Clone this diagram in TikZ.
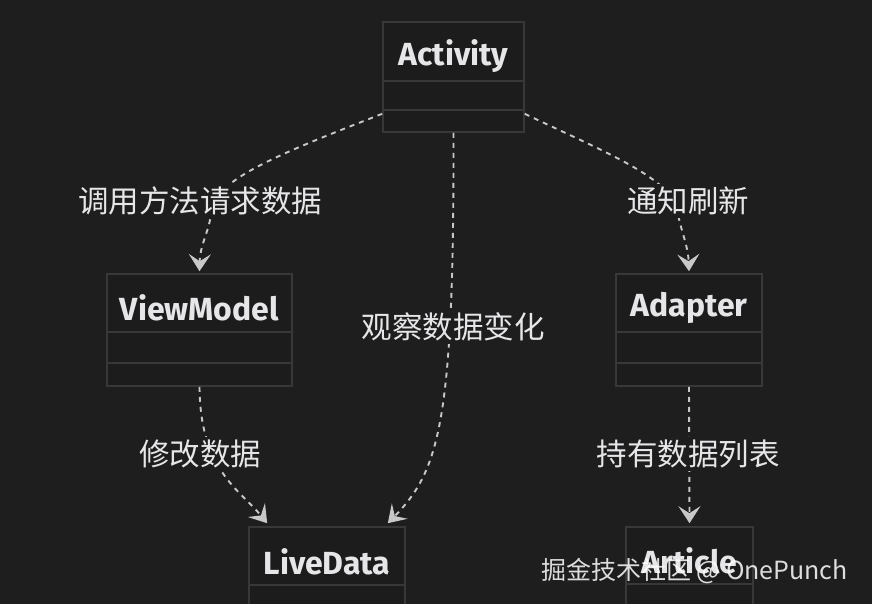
\documentclass[tikz,border=0pt]{standalone}
\usepackage{fontspec}
\setmainfont{Fira Sans}
\newfontfamily\cjk{Noto Sans CJK SC}
\usetikzlibrary{arrows.meta,calc}
\definecolor{bgc}{HTML}{1E1E1F}
\definecolor{boxline}{HTML}{383839}
\definecolor{boxfill}{HTML}{1C1C1D}
\definecolor{txt}{HTML}{E6E6E8}
\definecolor{edgec}{HTML}{C8C8C8}
\tikzset{
  classbox/.style={draw=boxline, line width=1.6pt, fill=boxfill, inner sep=0pt},
  divider/.style={draw=boxline, line width=1.6pt},
  titletext/.style={text=txt, font=\fontsize{32}{36}\selectfont\bfseries, inner sep=0pt},
  edgelabel/.style={text=txt, fill=bgc, font=\cjk\fontsize{30.5}{34}\selectfont, inner sep=3pt},
  flow/.style={draw=edgec, line width=1.9pt, dash pattern=on 5pt off 5pt,
    -{Stealth[length=17pt,width=22pt,inset=7pt,fill=edgec]}},
}
\begin{document}
\begin{tikzpicture}[x=1pt,y=-1pt]
\fill[bgc] (0,0) rectangle (872,604);
\useasboundingbox (0,0) rectangle (872,604);

% class boxes
\node[classbox, minimum width=141pt, minimum height=110pt] (act) at (453.5,77) {};
\node[classbox, minimum width=185pt, minimum height=112pt] (vm) at (199.5,330) {};
\node[classbox, minimum width=146pt, minimum height=112pt] (ad) at (689,330) {};
\node[classbox, minimum width=156pt, minimum height=100pt] (live) at (327,577) {};
\node[classbox, minimum width=127pt, minimum height=100pt] (art) at (689.5,577) {};

% dividers
\draw[divider] ([yshift=-60pt]act.north west) -- ([yshift=-60pt]act.north east);
\draw[divider] ([yshift=-89pt]act.north west) -- ([yshift=-89pt]act.north east);
\draw[divider] ([yshift=-59pt]vm.north west) -- ([yshift=-59pt]vm.north east);
\draw[divider] ([yshift=-90pt]vm.north west) -- ([yshift=-90pt]vm.north east);
\draw[divider] ([yshift=-59pt]ad.north west) -- ([yshift=-59pt]ad.north east);
\draw[divider] ([yshift=-90pt]ad.north west) -- ([yshift=-90pt]ad.north east);
\draw[divider] ([yshift=-59pt]live.north west) -- ([yshift=-59pt]live.north east);
\draw[divider] ([yshift=-58pt]art.north west) -- ([yshift=-58pt]art.north east);

% titles
\node[titletext] (tact) at ($(act.north)+(0,35)$) {Activity};
\node[titletext] (tvm) at ($(vm.north)+(0,35)$) {ViewModel};
\node[titletext] (tad) at ($(ad.north)+(0,35)$) {Adapter};
\node[titletext] (tlive) at ($(live.north)+(0,36)$) {LiveData};
\node[titletext] (tart) at ($(art.north)+(0,35)$) {Article};

% waypoints / label positions
\coordinate (l1) at (200,201);
\coordinate (p1) at (212,210);
\coordinate (l2) at (453,327);
\coordinate (l3) at (688,201);
\coordinate (p3) at (677,210);
\coordinate (l4) at (200,454);
\coordinate (l5) at (688,454);

% connectors
\draw[flow] ([yshift=19pt]act.south west) .. controls (290,150) and (215,178) .. (p1)
   .. controls (208,235) and (200,245) .. ([yshift=2pt]vm.north);
\draw[flow] (act.south) .. controls (454,420) and (440,470) .. ([xshift=-18pt,yshift=3pt]live.north east);
\draw[flow] ([yshift=19pt]act.south east) .. controls (600,150) and (672,178) .. (p3)
   .. controls (682,235) and (688,245) .. ([yshift=2pt]ad.north);
\draw[flow] (vm.south) .. controls (200,470) and (240,490) .. ([xshift=19pt,yshift=3pt]live.north west);
\draw[flow] (ad.south) -- ([yshift=3pt]art.north);

% edge labels
\node[edgelabel] (e1) at (l1) {调用方法请求数据};
\node[edgelabel] (e2) at (l2) {观察数据变化};
\node[edgelabel] (e3) at (l3) {通知刷新};
\node[edgelabel] (e4) at (l4) {修改数据};
\node[edgelabel] (e5) at (l5) {持有数据列表};

% watermark
\node[anchor=west, text=white, opacity=0.85, font=\cjk\fontsize{25}{30}\selectfont, inner sep=0pt] (wm) at (541,571) {掘金技术社区 @ OnePunch};
\end{tikzpicture}
\end{document}
